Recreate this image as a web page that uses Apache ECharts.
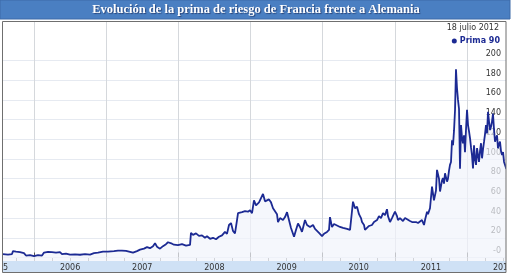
<!DOCTYPE html>
<html>
<head>
<meta charset="utf-8">
<script src="https://cdn.jsdelivr.net/npm/echarts@6/dist/echarts.min.js"></script>
<style>html,body{margin:0;padding:0;background:#fff}#c{width:512px;height:274px}</style>
</head>
<body>
<div id="c"></div>
<script>
// Data (dates as decimal years, values in basis points)
const fechas = [
  2005.570,2005.640,2005.695,2005.709,2005.751,2005.806,2005.861,2005.889,2005.945,2006.000,
  2006.055,2006.111,2006.139,2006.194,2006.249,2006.305,2006.360,2006.388,2006.443,2006.499,
  2006.568,2006.637,2006.707,2006.776,2006.831,2006.887,2006.956,2007.025,2007.108,2007.164,
  2007.219,2007.275,2007.330,2007.372,2007.427,2007.469,2007.524,2007.566,2007.607,2007.649,
  2007.677,2007.704,2007.746,2007.787,2007.829,2007.857,2007.884,2007.912,2007.940,2007.995,
  2008.051,2008.106,2008.162,2008.175,2008.203,2008.245,2008.286,2008.328,2008.369,2008.397,
  2008.439,2008.480,2008.522,2008.563,2008.605,2008.646,2008.674,2008.702,2008.730,2008.757,
  2008.785,2008.813,2008.827,2008.854,2008.882,2008.924,2008.965,2008.993,2009.021,2009.048,
  2009.076,2009.090,2009.118,2009.145,2009.173,2009.201,2009.228,2009.256,2009.284,2009.312,
  2009.339,2009.367,2009.381,2009.409,2009.450,2009.478,2009.506,2009.533,2009.561,2009.575,
  2009.603,2009.630,2009.658,2009.686,2009.713,2009.727,2009.755,2009.783,2009.824,2009.866,
  2009.894,2009.921,2009.949,2009.991,2010.018,2010.060,2010.088,2010.101,2010.129,2010.157,
  2010.185,2010.212,2010.240,2010.282,2010.309,2010.337,2010.379,2010.406,2010.420,2010.448,
  2010.476,2010.503,2010.531,2010.545,2010.573,2010.586,2010.614,2010.642,2010.683,2010.711,
  2010.753,2010.780,2010.808,2010.836,2010.864,2010.891,2010.905,2010.933,2010.960,2011.002,
  2011.030,2011.043,2011.071,2011.113,2011.141,2011.168,2011.210,2011.238,2011.265,2011.293,
  2011.321,2011.348,2011.376,2011.404,2011.418,2011.446,2011.459,2011.487,2011.501,2011.515,
  2011.542,2011.570,2011.584,2011.612,2011.626,2011.653,2011.667,2011.681,2011.695,2011.723,
  2011.736,2011.750,2011.764,2011.778,2011.792,2011.806,2011.820,2011.834,2011.847,2011.861,
  2011.875,2011.889,2011.903,2011.917,2011.930,2011.944,2011.958,2011.972,2011.986,2012.000,
  2012.014,2012.028,2012.042,2012.055,2012.069,2012.083,2012.097,2012.111,2012.125,2012.139,
  2012.152,2012.166,2012.180,2012.194,2012.208,2012.222,2012.236,2012.249,2012.263,2012.277,
  2012.291,2012.305,2012.319,2012.333,2012.346,2012.360,2012.374,2012.388,2012.402,2012.416,
  2012.429,2012.443,2012.457,2012.471,2012.485,2012.499,2012.513,2012.545
];
const prima = [
  3.5,3.0,3.5,6.5,6.0,5.5,4.5,2.0,2.5,1.5,
  2.5,2.0,5.0,5.8,5.5,5.0,5.5,3.5,4.0,3.0,
  3.2,2.8,3.5,3.0,4.5,5.0,6.0,6.0,6.5,7.0,
  7.0,6.8,5.8,5.0,6.5,8.0,9.0,10.5,9.5,11.5,
  14.5,11,9.0,11.5,13.5,15.5,16.5,14,13,12.5,
  13.5,12,12.8,25,23,24.5,22,22.5,20,21.5,
  19,20,18.5,21,22.5,26,24,33,35,27,
  24.5,38,45,43,46,47,46.5,48,45,58,
  53,51,56,54,64.5,57,55,59,56,50,
  48,44,36,40,38,41,46,38,30,28,
  21,28,34.5,31,26,30,38,33,31,33,
  29,28,25,21.8,24,26,28,41,31,34,
  33,35,31,30,32,29,28,30,56.7,50,
  51.6,44,40,36,33,28,30,32,33,36,
  38,42,40,45,43,49,42,36,40,46.5,
  42,38,40,37,40,38,37,36,38,36,
  35,37,38,33,38,46.5,44,50,48,72,
  58,68,89,80,67,78,80.7,75,85.5,77,
  80,88,94,97,119,114,129,150,191,172,
  160,151,90,134.5,122,116,124,107,130,150,
  134.5,128,121,112,104,90.5,114,100,94,111,
  104,97,108,116,100.7,110,117.6,125,134.5,126,
  148,138,129.4,133,138,146,130,117.6,121,124,
  111,115,117.6,108,104,107,97,90
];
const yearTicks = [2005, 2013];
const yTickMax = 200, yTickStep = 20;
const chartTitle = 'Evolución de la prima de riesgo de Francia frente a Alemania';
const fechaTexto = '18 julio 2012';
const serieNombre = 'Prima';

const FONT = 'DejaVu Sans';
const navy = '#1c2a93';
const data = fechas.map((f, i) => [f, prima[i]]);

const chart = echarts.init(document.getElementById('c'), null, {renderer: 'canvas'});
chart.setOption({
  animation: false,
  backgroundColor: '#fff',
  title: [
    {text: chartTitle, left: 'center', top: 3, padding: 0,
     textStyle: {color: '#fff', fontFamily: 'Liberation Serif', fontWeight: 'bold', fontSize: 12.5,
       textShadowColor: 'rgba(0,0,40,0.45)', textShadowBlur: 1, textShadowOffsetX: 1, textShadowOffsetY: 1}},
    {text: fechaTexto, right: 13, top: 24, padding: 0,
     textStyle: {color: '#333', fontFamily: FONT, fontWeight: 'normal', fontSize: 8}}
  ],
  legend: {
    right: 12, top: 37, padding: 0, icon: 'circle', itemWidth: 5, itemHeight: 5,
    data: [serieNombre],
    formatter: n => n + ' ' + prima[prima.length - 1],
    textStyle: {color: navy, fontFamily: FONT, fontWeight: 'bold', fontSize: 8, padding: [0,0,0,-2]}
  },
  grid: [
    {left: -38.17, width: 577.36, top: 21, height: 240, outerBoundsMode: 'none', containLabel: false},
    {left: 3, width: 503, top: 60.5, height: 197, outerBoundsMode: 'none', containLabel: false}
  ],
  xAxis: [
    {gridIndex: 0, type: 'value', position: 'bottom', min: yearTicks[0], max: yearTicks[1], interval: 1,
     axisLine: {show: false}, axisLabel: {show: false},
     axisTick: {show: true, inside: true, length: 5, lineStyle: {color: '#555'}},
     splitLine: {show: true, lineStyle: {color: '#d5d8dc', width: 1}}},
    {gridIndex: 0, type: 'value', position: 'bottom', min: yearTicks[0], max: yearTicks[1], interval: 0.25,
     axisLine: {show: false}, axisLabel: {show: false}, splitLine: {show: false},
     axisTick: {show: true, inside: true, length: 3, lineStyle: {color: '#888'}}},
    {gridIndex: 0, type: 'value', position: 'bottom', min: yearTicks[0], max: yearTicks[1], interval: 0.5,
     axisLine: {show: false}, axisTick: {show: false}, splitLine: {show: false},
     axisLabel: {show: true, margin: 1, fontSize: 8, fontFamily: FONT, color: '#333', lineHeight: 11,
       formatter: v => (Math.round(v * 2) % 2 === 1) ? String(Math.floor(v)) : ''}},
    {gridIndex: 1, type: 'value', min: 0, max: 1, show: false}
  ],
  yAxis: [
    {gridIndex: 0, type: 'value', min: -3.553, max: 240.1, show: false, splitLine: {show: false}},
    {gridIndex: 1, type: 'value', min: 0, max: yTickMax, interval: yTickStep, position: 'right',
     axisLine: {show: false}, axisTick: {show: false},
     splitLine: {show: true, lineStyle: {color: '#e6eaf1'}},
     axisLabel: {inside: true, margin: 5, fontSize: 8, fontFamily: FONT, color: '#333',
       verticalAlign: 'bottom', lineHeight: 13,
       formatter: v => v === 0 ? '-0' : String(v)}}
  ],
  series: [{
    name: serieNombre, type: 'line', xAxisIndex: 0, yAxisIndex: 0, data: data,
    showSymbol: false, symbol: 'circle', color: navy,
    lineStyle: {color: navy, width: 1.8},
    areaStyle: {color: '#f1f4fb', origin: 'start'}
  }],
  graphic: [
    {type: 'rect', z: -1, shape: {x: 0, y: 0, width: 510, height: 19},
     style: {fill: '#4a7fc2', stroke: '#3c6aa8', lineWidth: 1}},
    {type: 'rect', z: -1, shape: {x: 3, y: 261, width: 503, height: 11},
     style: {fill: '#cfe1f5'}},
    {type: 'rect', z: 100, shape: {x: 0, y: 20, width: 3, height: 254}, style: {fill: '#fff'}},
    {type: 'rect', z: 100, shape: {x: 506, y: 20, width: 6, height: 254}, style: {fill: '#fff'}},
    {type: 'rect', z: 101, shape: {x: 2.5, y: 21.5, width: 503.5, height: 251},
     style: {fill: 'none', stroke: '#6f6f6f', lineWidth: 1}}
  ]
});
</script>
</body>
</html>
